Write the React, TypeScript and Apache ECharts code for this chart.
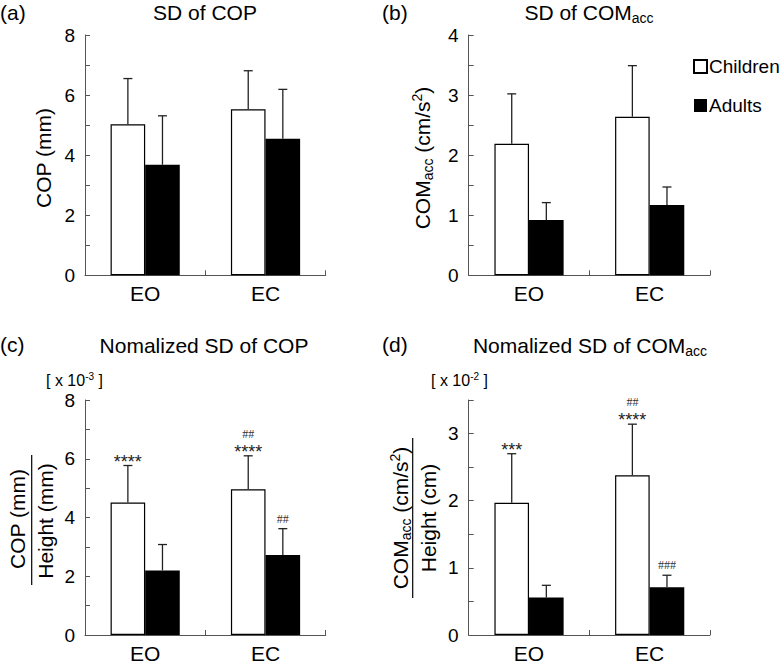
import React, { useEffect, useRef } from "react";
import * as echarts from "echarts";

const FONT = "'Liberation Sans', Arial, Helvetica, sans-serif";
const SERIF = "'Liberation Serif', 'DejaVu Serif', serif";

const categories = ["EO", "EC"];
const groupNames = ["Children", "Adults"];

// (a) SD of COP (mm)
const aChildrenMean = [5.03, 5.53];
const aChildrenSD = [1.52, 1.28];
const aAdultsMean = [3.68, 4.55];
const aAdultsSD = [1.63, 1.64];

// (b) SD of COMacc (cm/s^2)
const bChildrenMean = [2.19, 2.64];
const bChildrenSD = [0.83, 0.85];
const bAdultsMean = [0.92, 1.17];
const bAdultsSD = [0.29, 0.3];

// (c) Normalized SD of COP (x 10^-3)
const cChildrenMean = [4.51, 4.96];
const cChildrenSD = [1.26, 1.14];
const cAdultsMean = [2.2, 2.72];
const cAdultsSD = [0.88, 0.9];

// (d) Normalized SD of COMacc (x 10^-2)
const dChildrenMean = [1.97, 2.38];
const dChildrenSD = [0.73, 0.76];
const dAdultsMean = [0.56, 0.71];
const dAdultsSD = [0.18, 0.18];

// significance marks
const cChildrenStars = ["****", "****"];
const cChildrenHash = ["", "##"];
const cAdultsStars = ["", ""];
const cAdultsHash = ["", "##"];
const dChildrenStars = ["***", "****"];
const dChildrenHash = ["", "##"];
const dAdultsStars = ["", ""];
const dAdultsHash = ["", "###"];
const noMarks = ["", ""];

const yMaxA = 8, yIntA = 1;
const yMaxB = 4, yIntB = 0.5;
const yMaxC = 8, yIntC = 1;
const yMaxD = 3.5, yIntD = 0.5;

const BAR_W = 34.6;
const AXIS_COLOR = "#555";

function errSeries(idx: number, mean: number[], sd: number[], offset: number, stars: string[], hash: string[]) {
  return {
    type: "custom",
    xAxisIndex: idx,
    yAxisIndex: idx,
    z: 5,
    silent: true,
    data: mean.map((m, i) => [i, m, m + sd[i]]),
    renderItem: (params: any, api: any) => {
      const cat = api.value(0);
      const p0 = api.coord([cat, api.value(1)]);
      const p1 = api.coord([cat, api.value(2)]);
      const x = p0[0] + offset;
      const children: any[] = [
        { type: "line", shape: { x1: x, y1: p0[1], x2: x, y2: p1[1] }, style: { stroke: "#222", lineWidth: 1.3 } },
        { type: "line", shape: { x1: x - 4.5, y1: p1[1], x2: x + 4.5, y2: p1[1] }, style: { stroke: "#222", lineWidth: 1.3 } },
      ];
      const s = stars[params.dataIndex];
      const h = hash[params.dataIndex];
      if (s) {
        children.push({
          type: "text",
          style: { text: s, x, y: p1[1] - 4, align: "center", verticalAlign: "middle", textAlign: "center", textVerticalAlign: "middle", fontSize: 18, fontFamily: FONT, fill: "#222" },
        });
      }
      if (h) {
        children.push({
          type: "text",
          style: { text: h, x, y: p1[1] - (s ? 22 : 10), align: "center", verticalAlign: "middle", textAlign: "center", textVerticalAlign: "middle", fontSize: 12, fontFamily: SERIF, fill: "#333" },
        });
      }
      return { type: "group", children };
    },
  };
}

function barSeries(idx: number, name: string, mean: number[]) {
  const white = name === groupNames[0];
  return {
    type: "bar",
    name,
    xAxisIndex: idx,
    yAxisIndex: idx,
    barWidth: BAR_W,
    barGap: "0%",
    data: mean,
    itemStyle: white
      ? { color: "#ffffff", borderColor: "#000", borderWidth: 1.2 }
      : { color: "#000000", borderColor: "#000", borderWidth: 0 },
  };
}

function yAxis(idx: number, max: number, interval: number, labelStep: number) {
  return {
    type: "value",
    gridIndex: idx,
    min: 0,
    max,
    interval,
    axisLine: { show: true, lineStyle: { color: AXIS_COLOR, width: 1 } },
    axisTick: { show: true, inside: true, length: 5, lineStyle: { color: AXIS_COLOR } },
    splitLine: { show: false },
    axisLabel: {
      color: "#000",
      fontSize: 19,
      fontFamily: FONT,
      margin: 10,
      showMaxLabel: true,
      formatter: (v: number) => (Math.abs(v / labelStep - Math.round(v / labelStep)) < 1e-6 ? String(v) : ""),
    },
  };
}

function xAxis(idx: number) {
  return {
    type: "category",
    gridIndex: idx,
    data: categories,
    boundaryGap: true,
    axisLine: { show: true, lineStyle: { color: AXIS_COLOR, width: 1 } },
    axisTick: { show: true, inside: true, length: 5, alignWithLabel: false, lineStyle: { color: AXIS_COLOR } },
    axisLabel: { color: "#000", fontSize: 21, fontFamily: FONT, margin: 8 },
  };
}

const rich = {
  sub: { fontSize: 14, fontFamily: FONT, padding: [11, 0, 0, 0] },
  sup: { fontSize: 14, fontFamily: FONT, padding: [0, 0, 10, 0] },
  ssup: { fontSize: 10, fontFamily: FONT, padding: [0, 0, 8, 0] },
};

function txt(text: string, x: number, y: number, fontSize: number, align: string, rotation = 0) {
  return {
    type: "text",
    x,
    y,
    rotation,
    style: {
      text,
      fontSize,
      fontFamily: FONT,
      fill: "#000",
      align,
      verticalAlign: "middle",
      textAlign: align,
      textVerticalAlign: "middle",
      rich,
    },
  };
}

export default function App() {
  const ref = useRef<HTMLDivElement>(null);
  useEffect(() => {
    if (!ref.current) return;
    const chart = echarts.init(ref.current, undefined, { renderer: "svg" });
    const R = Math.PI / 2;
    const option: any = {
      animation: false,
      backgroundColor: "#fff",
      textStyle: { fontFamily: FONT },
      legend: {
        data: groupNames,
        orient: "vertical",
        left: 693,
        top: 57,
        icon: "rect",
        itemWidth: 13,
        itemHeight: 13,
        itemGap: 20,
        padding: 0,
        selectedMode: false,
        textStyle: { fontSize: 19, fontFamily: FONT, color: "#000", padding: [0, 0, 0, -3] },
      },
      grid: [
        { left: 85, top: 35, width: 240.7, height: 240.3 },
        { left: 468.7, top: 35, width: 241.3, height: 240.3 },
        { left: 85, top: 400, width: 240.7, height: 240 },
        { left: 468.7, top: 400, width: 241.3, height: 240 },
      ],
      xAxis: [xAxis(0), xAxis(1), xAxis(2), xAxis(3)],
      yAxis: [yAxis(0, yMaxA, yIntA, 2), yAxis(1, yMaxB, yIntB, 1), yAxis(2, yMaxC, yIntC, 2), yAxis(3, yMaxD, yIntD, 1)],
      series: [
        barSeries(0, groupNames[0], aChildrenMean),
        barSeries(0, groupNames[1], aAdultsMean),
        errSeries(0, aChildrenMean, aChildrenSD, -BAR_W / 2, noMarks, noMarks),
        errSeries(0, aAdultsMean, aAdultsSD, BAR_W / 2, noMarks, noMarks),
        barSeries(1, groupNames[0], bChildrenMean),
        barSeries(1, groupNames[1], bAdultsMean),
        errSeries(1, bChildrenMean, bChildrenSD, -BAR_W / 2, noMarks, noMarks),
        errSeries(1, bAdultsMean, bAdultsSD, BAR_W / 2, noMarks, noMarks),
        barSeries(2, groupNames[0], cChildrenMean),
        barSeries(2, groupNames[1], cAdultsMean),
        errSeries(2, cChildrenMean, cChildrenSD, -BAR_W / 2, cChildrenStars, cChildrenHash),
        errSeries(2, cAdultsMean, cAdultsSD, BAR_W / 2, cAdultsStars, cAdultsHash),
        barSeries(3, groupNames[0], dChildrenMean),
        barSeries(3, groupNames[1], dAdultsMean),
        errSeries(3, dChildrenMean, dChildrenSD, -BAR_W / 2, dChildrenStars, dChildrenHash),
        errSeries(3, dAdultsMean, dAdultsSD, BAR_W / 2, dAdultsStars, dAdultsHash),
      ],
      graphic: [
        txt("(a)", 0, 12, 21, "left"),
        txt("SD of COP", 205, 12, 21, "center"),
        txt("(b)", 382, 12, 21, "left"),
        txt("SD of COM{sub|acc}", 589, 12, 21, "center"),
        txt("(c)", 0, 344, 21, "left"),
        txt("Nomalized SD of COP", 204, 345, 21, "center"),
        txt("(d)", 382, 344, 21, "left"),
        txt("Nomalized SD of COM{sub|acc}", 590, 345, 21, "center"),
        txt("[ x 10{ssup|-3} ]", 46, 380, 16, "left"),
        txt("[ x 10{ssup|-2} ]", 431, 380, 16, "left"),
        txt("COP (mm)", 43, 158, 21, "center", R),
        txt("COM{sub|acc} (cm/s{sup|2})", 422, 158, 21, "center", R),
        txt("COP (mm)", 17, 519, 21, "center", R),
        { type: "line", shape: { x1: 31.7, y1: 455, x2: 31.7, y2: 585 }, style: { stroke: "#000", lineWidth: 1.2 } },
        txt("Height (mm)", 45, 521, 21, "center", R),
        txt("COM{sub|acc} (cm/s{sup|2})", 400, 518, 21, "center", R),
        { type: "line", shape: { x1: 412.7, y1: 438, x2: 412.7, y2: 598 }, style: { stroke: "#000", lineWidth: 1.2 } },
        txt("Height (cm)", 428, 518, 21, "center", R),
      ],
    };
    chart.setOption(option);
    return () => chart.dispose();
  }, []);
  return <div ref={ref} style={{ position: "fixed", left: 0, top: 0, width: 783, height: 664 }} />;
}
